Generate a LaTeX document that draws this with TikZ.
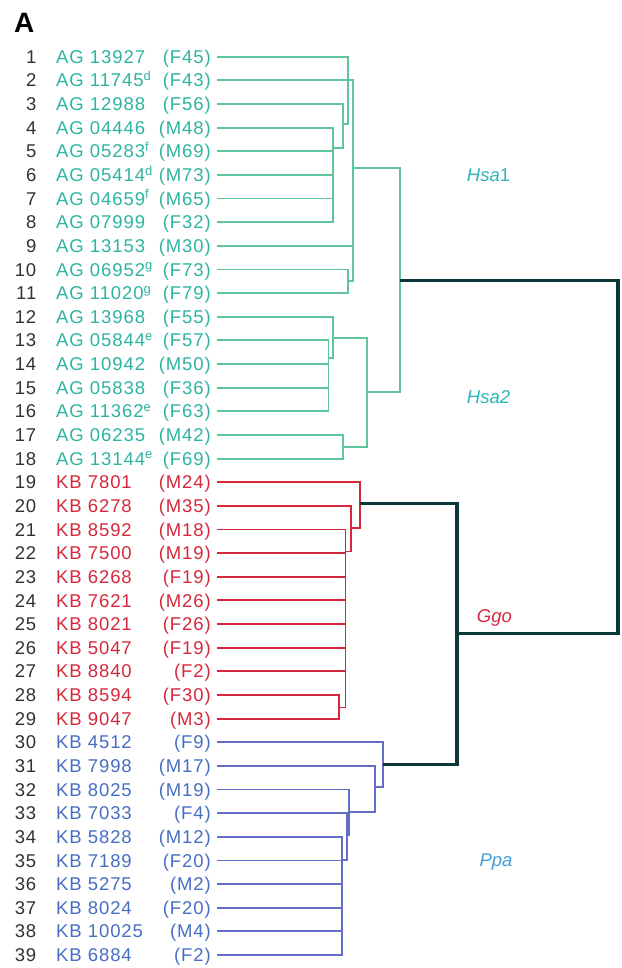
\documentclass[tikz,border=0pt]{standalone}
\usepackage{fontspec}
\setmainfont{Liberation Sans}
\newfontfamily\labelfont[LetterSpace=5]{Liberation Sans}
\usetikzlibrary{positioning}
\definecolor{numgray}{RGB}{50,50,50}
\definecolor{hsatext}{RGB}{45,180,160}
\definecolor{hsaclade}{RGB}{45,182,182}
\definecolor{hsaline}{RGB}{95,197,155}
\definecolor{ggored}{RGB}{214,40,60}
\definecolor{ppatext}{RGB}{70,110,195}
\definecolor{ppaline}{RGB}{100,110,200}
\definecolor{ppaclade}{RGB}{70,155,220}
\definecolor{rootdark}{RGB}{10,55,55}

\begin{document}
\begin{tikzpicture}[x=1pt, y=-1pt,
    numlbl/.style={font=\labelfont\fontsize{18.5}{20}\selectfont, text=numgray, anchor=base east, inner sep=0pt},
    idlbl/.style={font=\labelfont\fontsize{18.5}{20}\selectfont, anchor=base west, inner sep=0pt},
    sexlbl/.style={font=\labelfont\fontsize{18.5}{20}\selectfont, anchor=base east, inner sep=0pt},
    cladelbl/.style={font=\fontsize{18.5}{20}\selectfont, anchor=base west, inner sep=0pt},
    hsabranch/.style={draw=hsaline, line width=1.9pt},
    ggobranch/.style={draw=ggored, line width=1.9pt},
    ppabranch/.style={draw=ppaline, line width=1.9pt},
    rootbranch/.style={draw=rootdark, line width=3.2pt}]
  \useasboundingbox (0,0) rectangle (621,968);
  % panel letter
  \node[font=\bfseries\fontsize{28}{30}\selectfont, anchor=base west, inner sep=0pt] (panel) at (14,32.5) {A};
  % leaves
  \foreach[evaluate=\i as \y using 56.7+(\i-1)*23.64] \i/\id/\sx/\c in {
      1/{AG 13927}/F45/hsatext, 2/{AG 11745\textsuperscript{d}}/F43/hsatext,
      3/{AG 12988}/F56/hsatext, 4/{AG 04446}/M48/hsatext,
      5/{AG 05283\textsuperscript{f}}/M69/hsatext, 6/{AG 05414\textsuperscript{d}}/M73/hsatext,
      7/{AG 04659\textsuperscript{f}}/M65/hsatext, 8/{AG 07999}/F32/hsatext,
      9/{AG 13153}/M30/hsatext, 10/{AG 06952\textsuperscript{g}}/F73/hsatext,
      11/{AG 11020\textsuperscript{g}}/F79/hsatext, 12/{AG 13968}/F55/hsatext,
      13/{AG 05844\textsuperscript{e}}/F57/hsatext, 14/{AG 10942}/M50/hsatext,
      15/{AG 05838}/F36/hsatext, 16/{AG 11362\textsuperscript{e}}/F63/hsatext,
      17/{AG 06235}/M42/hsatext, 18/{AG 13144\textsuperscript{e}}/F69/hsatext,
      19/{KB 7801}/M24/ggored, 20/{KB 6278}/M35/ggored, 21/{KB 8592}/M18/ggored,
      22/{KB 7500}/M19/ggored, 23/{KB 6268}/F19/ggored, 24/{KB 7621}/M26/ggored,
      25/{KB 8021}/F26/ggored, 26/{KB 5047}/F19/ggored, 27/{KB 8840}/F2/ggored,
      28/{KB 8594}/F30/ggored, 29/{KB 9047}/M3/ggored,
      30/{KB 4512}/F9/ppatext, 31/{KB 7998}/M17/ppatext, 32/{KB 8025}/M19/ppatext,
      33/{KB 7033}/F4/ppatext, 34/{KB 5828}/M12/ppatext, 35/{KB 7189}/F20/ppatext,
      36/{KB 5275}/M2/ppatext, 37/{KB 8024}/F20/ppatext, 38/{KB 10025}/M4/ppatext,
      39/{KB 6884}/F2/ppatext} {
    \node[numlbl] (n\i) at (36.5,\y+6.6) {\i};
    \node[idlbl, text=\c] (id\i) at (56,\y+6.6) {\id};
    \node[sexlbl, text=\c] (sx\i) at (211,\y+6.6) {(\sx)};
    \coordinate (t\i) at (217,\y);
  }
  % Hsa1
  \coordinate (c1) at (333,148.3);
  \coordinate (c2) at (343,124);
  \coordinate (c3) at (348,80.34);
  \coordinate (c5) at (348,281.3);
  \coordinate (c4) at (353,168.3);
  \draw[hsabranch] \foreach \k in {4,...,8} {(t\k) -| (c1)};
  \draw[hsabranch] (t3) -| (c2) (c1) -| (c2);
  \draw[hsabranch] (t1) -| (c3) (c2) -| (c3);
  \draw[hsabranch] (t10) -| (c5) (t11) -| (c5);
  \draw[hsabranch] (t2) -| (c4) (c3) -| (c4) (t9) -| (c4) (c5) -| (c4);
  % Hsa2
  \coordinate (d1) at (328.5,358.3);
  \coordinate (d2) at (333,338);
  \coordinate (d3) at (343,446.7);
  \coordinate (d4) at (366.7,391.7);
  \coordinate (h) at (400,280.7);
  \draw[hsabranch] \foreach \k in {13,...,16} {(t\k) -| (d1)};
  \draw[hsabranch] (t12) -| (d2) (d1) -| (d2);
  \draw[hsabranch] (t17) -| (d3) (t18) -| (d3);
  \draw[hsabranch] (d2) -| (d4) (d3) -| (d4);
  \draw[hsabranch] (c4) -| (h) (d4) -| (h);
  % Ggo
  \coordinate (e1) at (339.3,707.5);
  \coordinate (e2) at (345.5,551.5);
  \coordinate (e3) at (350.7,528);
  \coordinate (e4) at (360,503.3);
  \draw[ggobranch] (t28) -| (e1) (t29) -| (e1);
  \draw[ggobranch] \foreach \k in {21,...,27} {(t\k) -| (e2)} (e1) -| (e2);
  \draw[ggobranch] (t20) -| (e3) (e2) -| (e3);
  \draw[ggobranch] (t19) -| (e4) (e3) -| (e4);
  % Ppa
  \coordinate (b1) at (341.7,860);
  \coordinate (b2) at (346.7,835);
  \coordinate (b3) at (349.3,811.7);
  \coordinate (b4) at (375,786.7);
  \coordinate (b5) at (383.3,764.3);
  \draw[ppabranch] \foreach \k in {34,...,39} {(t\k) -| (b1)};
  \draw[ppabranch] (t33) -| (b2) (b1) -| (b2);
  \draw[ppabranch] (t32) -| (b3) (b2) -| (b3);
  \draw[ppabranch] (t31) -| (b4) (b3) -| (b4);
  \draw[ppabranch] (t30) -| (b5) (b4) -| (b5);
  % root
  \coordinate (k) at (457,633.3);
  \coordinate (r) at (618,457);
  \draw[rootbranch] (e4) -| (k) (b5) -| (k);
  \draw[rootbranch] (h) -| (r) (k) -| (r);
  % clade labels
  \node[cladelbl, text=hsaclade] (hsa1) at (466.7,181.7) {\textit{Hsa}1};
  \node[cladelbl, text=hsaclade] (hsa2) at (466.7,403.3) {\textit{Hsa2}};
  \node[cladelbl, text=ggored] (ggo) at (476.7,622) {\textit{Ggo}};
  \node[cladelbl, text=ppaclade] (ppa) at (479.3,866.7) {\textit{Ppa}};
\end{tikzpicture}
\end{document}
